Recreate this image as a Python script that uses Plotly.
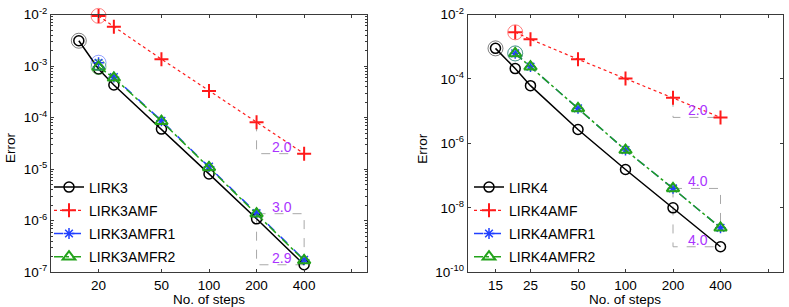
import numpy as np
import plotly.graph_objects as go

# ---------------- data ----------------
steps_a = [15, 20, 25, 50, 100, 200, 400]
steps_b = [20, 25, 50, 100, 200, 400]

lirk3 = [3.1e-3, 8.8e-4, 4.3e-4, 6.0e-5, 8.1e-6, 1.09e-6, 1.4e-7]
lirk3amf = [9.4e-3, 5.8e-3, 1.36e-3, 3.3e-4, 8.1e-5, 2.0e-5]
lirk3amfr1 = [1.16e-3, 6.1e-4, 8.7e-5, 1.12e-5, 1.4e-6, 1.75e-7]
lirk3amfr2 = [9.6e-4, 5.9e-4, 8.5e-5, 1.08e-5, 1.37e-6, 1.7e-7]

lirk4 = [8.9e-4, 2.1e-4, 6.2e-5, 2.7e-6, 1.55e-7, 1.0e-8, 6.2e-10]
lirk4amf = [2.8e-3, 1.7e-3, 4.1e-4, 1.04e-4, 2.6e-5, 6.4e-6]
lirk4amfr1 = [6.2e-4, 2.4e-4, 1.22e-5, 6.2e-7, 4.0e-8, 2.4e-9]
lirk4amfr2 = [6.2e-4, 2.4e-4, 1.22e-5, 6.2e-7, 4.0e-8, 2.4e-9]

names3 = ["LIRK3", "LIRK3AMF", "LIRK3AMFR1", "LIRK3AMFR2"]
names4 = ["LIRK4", "LIRK4AMF", "LIRK4AMFR1", "LIRK4AMFR2"]

xticks_left = [20, 50, 100, 200, 400, 800]
xticklabels_left = ["20", "50", "100", "200", "400", ""]
xticks_right = [15, 25, 50, 100, 200, 400, 800]
xticklabels_right = ["15", "25", "50", "100", "200", "400", ""]
yexp_left = [-7, -6, -5, -4, -3, -2]
yexp_right = [-10, -8, -6, -4, -2]

rate_labels_left = ["2.0", "3.0", "2.9"]
rate_labels_right = ["2.0", "4.0", "4.0"]

# ---------------- style ----------------
FONT = "Liberation Sans, Arial, Helvetica, sans-serif"
BLACK = "#000000"
RED = "#ff1a1a"
BLUE = "#2040ff"
GREEN = "#22a31a"
PURPLE = "#aa33ff"
GRAY = "#a8a8a8"
FRAME = "#3a3a3a"

W, H = 789, 307

def px2fx(px):
    return px / W

def px2fy(py):
    return 1 - py / H

fig = go.Figure()


def add_panel(xa, ya, legend, names, s_a, s_b, y0, y1, y2, y3, rates):
    tri_style = dict(mode="lines", line=dict(color=GRAY, width=1, dash="dash"),
                     showlegend=False, hoverinfo="skip", xaxis=xa, yaxis=ya)
    i200, i400 = s_b.index(200), s_b.index(400)
    j400 = s_a.index(400)
    fig.add_trace(go.Scatter(x=[200, 200, 400], y=[y1[i200], y1[i400], y1[i400]], **tri_style))
    fig.add_trace(go.Scatter(x=[200, 400, 400], y=[y3[i200], y3[i200], y3[i400]], **tri_style))
    fig.add_trace(go.Scatter(x=[200, 200, 400], y=[y3[i200], y0[j400], y0[j400]], **tri_style))

    common = dict(xaxis=xa, yaxis=ya, legend=legend, mode="lines+markers", cliponaxis=False)
    fig.add_trace(go.Scatter(x=s_a, y=y0, name=names[0], legendgroup=names[0],
                             line=dict(color=BLACK, width=1.5),
                             marker=dict(symbol="circle-open", size=10, color=BLACK,
                                         line=dict(width=1.5, color=BLACK)), **common))
    fig.add_trace(go.Scatter(x=s_b, y=y1, name=names[1], legendgroup=names[1],
                             line=dict(color=RED, width=1.2, dash="dot"),
                             marker=dict(symbol="cross-thin-open", size=10, color=RED,
                                         line=dict(width=2, color=RED)), **common))
    fig.add_trace(go.Scatter(x=s_b, y=y2, name=names[2], legendgroup=names[2],
                             line=dict(color=BLUE, width=1.5, dash="dash"),
                             marker=dict(symbol="asterisk-open", size=9, color=BLUE,
                                         line=dict(width=1.5, color=BLUE)), **common))
    fig.add_trace(go.Scatter(x=s_b, y=y3, name=names[3], legendgroup=names[3],
                             line=dict(color=GREEN, width=1.5, dash="dashdot"),
                             marker=dict(symbol="triangle-up-open", size=11, color=GREEN,
                                         line=dict(width=2, color=GREEN)), **common))

    ring = dict(mode="markers", showlegend=False, hoverinfo="skip", xaxis=xa, yaxis=ya,
                cliponaxis=False)
    for xs, ys, col in [(s_a, y0, "rgba(0,0,0,0.5)"), (s_b, y1, "rgba(255,0,0,0.5)"),
                        (s_b, y2, "rgba(40,70,255,0.5)"), (s_b, y3, "rgba(30,160,20,0.5)")]:
        fig.add_trace(go.Scatter(x=[xs[0]], y=[ys[0]],
                                 marker=dict(symbol="circle-open", size=15, color=col,
                                             line=dict(width=1, color=col)), **ring))

    xl = np.log10(290)
    for yv, txt in [(y1[i400], rates[0]), (y3[i200], rates[1]), (y0[j400], rates[2])]:
        fig.add_annotation(x=xl, y=np.log10(yv), xref=xa, yref=ya, text=txt,
                           showarrow=False, yanchor="bottom", yshift=-3,
                           font=dict(family=FONT, size=14, color=PURPLE))


add_panel("x", "y", "legend", names3, steps_a, steps_b, lirk3, lirk3amf, lirk3amfr1, lirk3amfr2,
          rate_labels_left)
add_panel("x2", "y2", "legend2", names4, steps_a, steps_b, lirk4, lirk4amf, lirk4amfr1, lirk4amfr2,
          rate_labels_right)

ydom = [px2fy(272.3), px2fy(14.5)]

axis_common = dict(type="log", showline=True, linecolor=FRAME, linewidth=1, mirror="allticks",
                   ticks="inside", ticklen=3, tickcolor=FRAME, showgrid=False, zeroline=False,
                   tickfont=dict(family=FONT, size=13.5, color="#000"), automargin=False)

def ytext(e):
    return "10<sup>%d</sup>" % e

minor_left = [m * 10.0 ** e for e in yexp_left[:-1] for m in range(2, 10)]

fig.update_layout(
    width=W, height=H,
    margin=dict(l=0, r=0, t=0, b=0),
    paper_bgcolor="white", plot_bgcolor="white",
    showlegend=True,
    xaxis=dict(domain=[px2fx(51), px2fx(367)], range=[1, 3], anchor="y",
               tickmode="array", tickvals=xticks_left, ticktext=xticklabels_left, **axis_common),
    yaxis=dict(domain=ydom, range=[-7, -2], anchor="x",
               tickmode="array", tickvals=[10.0 ** e for e in yexp_left],
               ticktext=[ytext(e) for e in yexp_left],
               minor=dict(tickmode="array", tickvals=minor_left, ticks="inside", ticklen=2,
                          tickcolor=FRAME, showgrid=False),
               **axis_common),
    xaxis2=dict(domain=[px2fx(467.7), px2fx(783.3)], range=[1, 3], anchor="y2",
                tickmode="array", tickvals=xticks_right, ticktext=xticklabels_right, **axis_common),
    yaxis2=dict(domain=ydom, range=[-10, -2], anchor="x2",
                tickmode="array", tickvals=[10.0 ** e for e in yexp_right],
                ticktext=[ytext(e) for e in yexp_right], **axis_common),
    legend=dict(x=px2fx(49), y=px2fy(222), xanchor="left", yanchor="middle",
                bgcolor="rgba(0,0,0,0)", font=dict(family=FONT, size=14, color="#000"),
                tracegroupgap=2, itemwidth=30),
    legend2=dict(x=px2fx(469), y=px2fy(222), xanchor="left", yanchor="middle",
                 bgcolor="rgba(0,0,0,0)", font=dict(family=FONT, size=14, color="#000"),
                 tracegroupgap=2, itemwidth=30),
)

for xc, yc, txt, ang in [(10, 148, "Error", -90), (421.7, 148, "Error", -90),
                         (209.3, 299.3, "No. of steps", 0), (625, 299.3, "No. of steps", 0)]:
    fig.add_annotation(x=px2fx(xc), y=px2fy(yc), xref="paper", yref="paper", text=txt,
                       textangle=ang, showarrow=False, xanchor="center", yanchor="middle",
                       font=dict(family=FONT, size=13.5, color="#000"))

fig.write_html("out.html", config={"displayModeBar": False},
               post_script="document.body.style.margin='0';document.body.style.padding='0';")
